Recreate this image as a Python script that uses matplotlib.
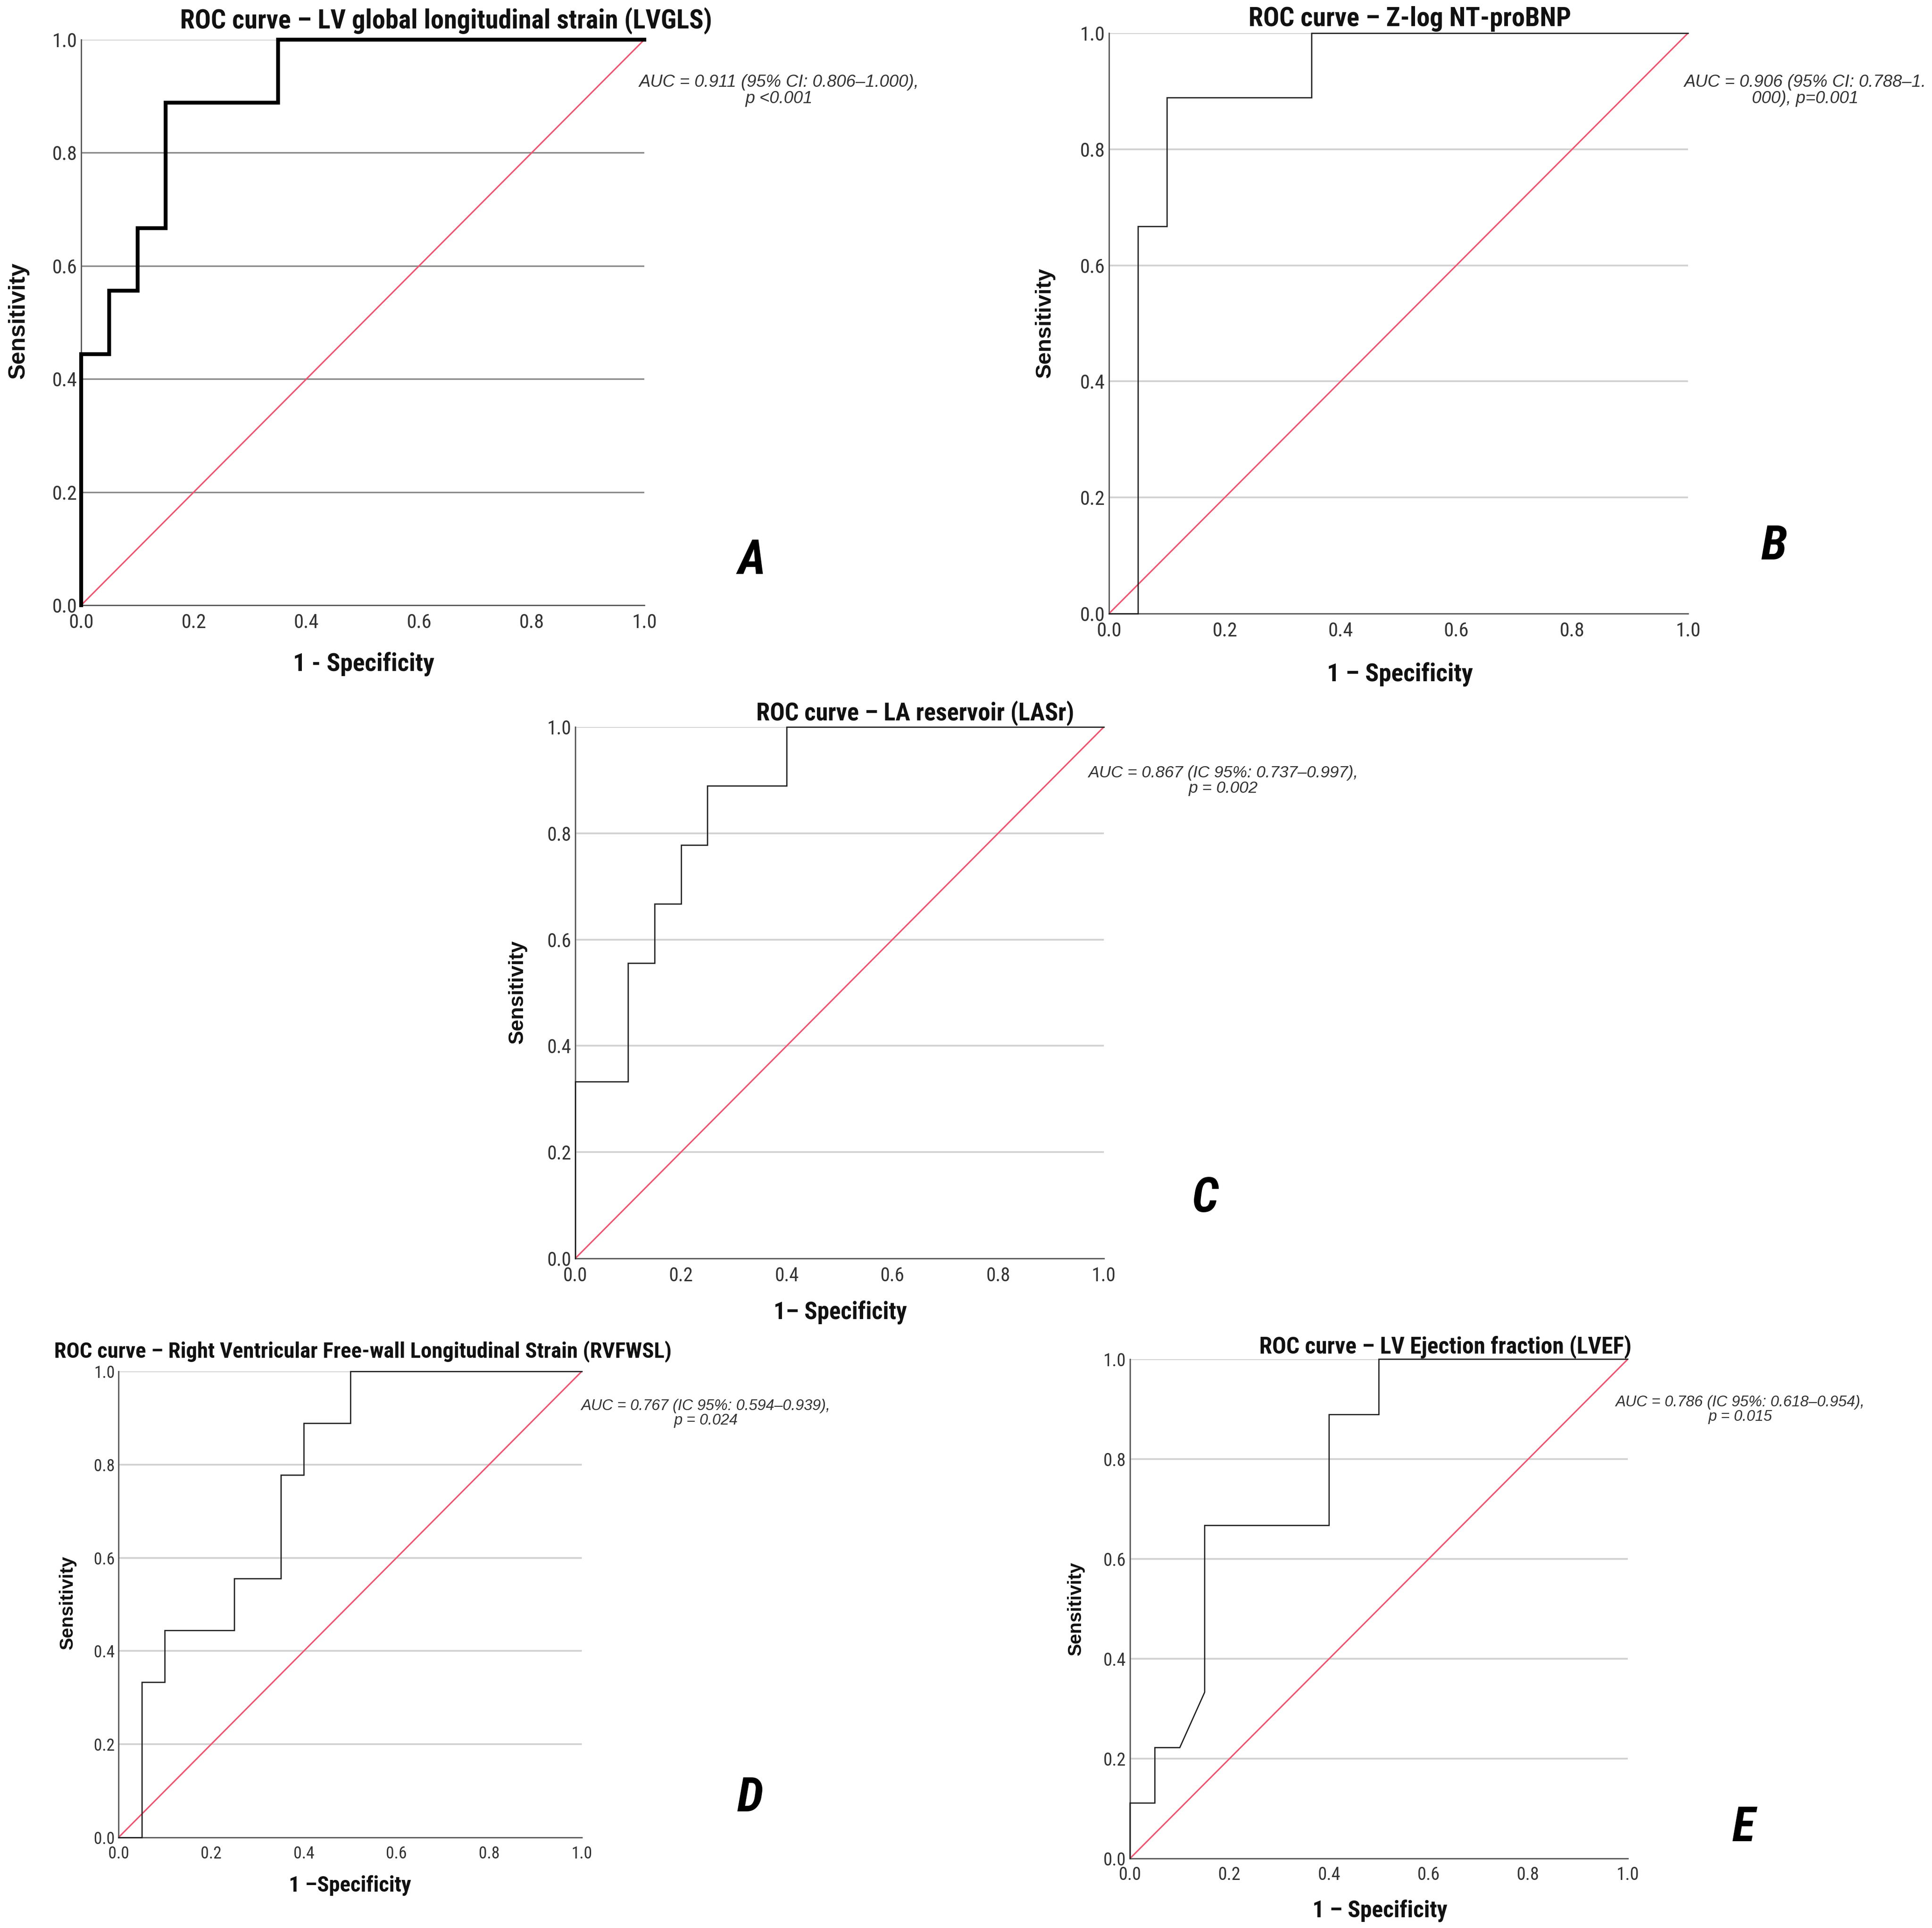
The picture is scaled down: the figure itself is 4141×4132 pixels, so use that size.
"""
ROC curves, five panels (A-E), SPSS look
"""
import matplotlib
matplotlib.use('Agg')
import matplotlib.pyplot as plt
from matplotlib import font_manager

W, H = 4141, 4132

have = {f.name for f in font_manager.fontManager.ttflist}


def pick(*names):
    for n in names:
        if n in have:
            return n
    return 'DejaVu Sans'


NARROW = pick('Liberation Sans Narrow', 'Roboto Condensed', 'Open Sans Condensed', 'Liberation Sans')
ARIAL = pick('Liberation Sans', 'Arimo', 'DejaVu Sans')
LETTER = pick('Roboto Condensed', 'Liberation Sans Narrow', 'Liberation Sans')

# data
ticks = [0.0, 0.2, 0.4, 0.6, 0.8, 1.0]
tick_labels = ['0.0', '0.2', '0.4', '0.6', '0.8', '1.0']
diag = [0.0, 1.0]

fpr_a = [0.0, 0.0, 0.05, 0.05, 0.10, 0.10, 0.15, 0.15, 0.35, 0.35, 1.0]
tpr_a = [0.0, 0.444, 0.444, 0.556, 0.556, 0.667, 0.667, 0.889, 0.889, 1.0, 1.0]

fpr_b = [0.0, 0.05, 0.05, 0.10, 0.10, 0.35, 0.35, 1.0]
tpr_b = [0.0, 0.0, 0.667, 0.667, 0.889, 0.889, 1.0, 1.0]

fpr_c = [0.0, 0.0, 0.10, 0.10, 0.15, 0.15, 0.20, 0.20, 0.25, 0.25, 0.40, 0.40, 1.0]
tpr_c = [0.0, 0.333, 0.333, 0.556, 0.556, 0.667, 0.667, 0.778, 0.778, 0.889, 0.889, 1.0, 1.0]

fpr_d = [0.0, 0.05, 0.05, 0.10, 0.10, 0.25, 0.25, 0.35, 0.35, 0.40, 0.40, 0.50, 0.50, 1.0]
tpr_d = [0.0, 0.0, 0.333, 0.333, 0.444, 0.444, 0.556, 0.556, 0.778, 0.778, 0.889, 0.889, 1.0, 1.0]

fpr_e = [0.0, 0.0, 0.05, 0.05, 0.10, 0.15, 0.15, 0.40, 0.40, 0.50, 0.50, 1.0]
tpr_e = [0.0, 0.111, 0.111, 0.222, 0.222, 0.333, 0.667, 0.667, 0.889, 0.889, 1.0, 1.0]

titles = ['ROC curve \u2013 LV global longitudinal strain (LVGLS)',
          'ROC curve \u2013 Z-log NT-proBNP',
          'ROC curve \u2013 LA reservoir (LASr)',
          'ROC curve \u2013 Right Ventricular Free-wall Longitudinal Strain (RVFWSL)',
          'ROC curve \u2013 LV Ejection fraction (LVEF)']
xlabels = ['1 - Specificity', '1 \u2013 Specificity', '1\u2013 Specificity',
           '1 \u2013Specificity', '1 \u2013 Specificity']
auc_texts = ['AUC = 0.911 (95% CI: 0.806\u20131.000),\np <0.001',
             'AUC = 0.906 (95% CI: 0.788\u20131.\n000), p=0.001',
             'AUC = 0.867 (IC 95%: 0.737\u20130.997),\np = 0.002',
             'AUC = 0.767 (IC 95%: 0.594\u20130.939),\np = 0.024',
             'AUC = 0.786 (IC 95%: 0.618\u20130.954),\np = 0.015']
letters = ['A', 'B', 'C', 'D', 'E']

RED = '#F2506E'
CURVE = '#1e1e1e'
SPINE = '#555555'

fig = plt.figure(figsize=(W / 100, H / 100), dpi=100)
fig.patch.set_facecolor('white')


def fx(x):
    return x / W


def fy(y):
    return 1 - y / H


def panel(box, fpr, tpr, i, lay):
    l, r, t, b = box
    ax = fig.add_axes([fx(l), fy(b), (r - l) / W, (b - t) / H])
    ax.set_xlim(0, 1)
    ax.set_ylim(0, 1)
    for y in ticks[1:]:
        if lay.get('dark') and y < 1:
            ax.axhline(y, color='#8a8a8a', lw=2.4, zorder=1)
        else:
            ax.axhline(y, color='#d0d0d0', lw=2.6, zorder=1)
    ax.plot(diag, diag, color=RED, lw=2.2, zorder=2)
    ax.plot(fpr, tpr, color='black' if lay.get('thick') else CURVE,
            lw=lay.get('lw', 1.9), zorder=3, clip_on=False,
            solid_joinstyle='miter')
    for s in ['top', 'right']:
        ax.spines[s].set_visible(False)
    for s in ['left', 'bottom']:
        ax.spines[s].set_color(SPINE)
        ax.spines[s].set_linewidth(2.0)
    ax.set_xticks(ticks)
    ax.set_yticks(ticks)
    ax.set_xticklabels(tick_labels)
    ax.set_yticklabels(tick_labels)
    ax.tick_params(length=0, labelsize=lay['tfs'], colors='#333333')
    ax.tick_params(axis='x', pad=12)
    ax.tick_params(axis='y', pad=6)
    for lbl in ax.get_xticklabels() + ax.get_yticklabels():
        lbl.set_fontfamily(NARROW)

    fig.text(fx(lay['title'][0]), fy(lay['title'][1]), titles[i], ha='center', va='center',
             fontsize=lay['hfs'], fontfamily=NARROW, fontweight='bold', color='#111111')
    fig.text(fx(lay['xl'][0]), fy(lay['xl'][1]), xlabels[i], ha='center', va='center',
             fontsize=lay['xfs'], fontfamily=NARROW, fontweight='bold', color='#111111')
    fig.text(fx(lay['yl'][0]), fy(lay['yl'][1]), 'Sensitivity', ha='center', va='center',
             rotation=90, fontsize=lay['yfs'], fontfamily=ARIAL, fontweight='bold',
             color='#111111')
    fig.text(fx(lay['auc'][0]), fy(lay['auc'][1]), auc_texts[i], ha='center', va='center',
             fontsize=lay['afs'], fontfamily=ARIAL, style='italic', color='#333333',
             linespacing=1.0, multialignment='center')
    fig.text(fx(lay['let'][0]), fy(lay['let'][1]), letters[i], ha='center', va='center',
             fontsize=74, fontfamily=LETTER, fontweight='bold', style='italic',
             color='black')
    return ax


panel((174, 1381, 85, 1297), fpr_a, tpr_a, 0,
      dict(thick=True, lw=6.0, dark=True, tfs=31, hfs=41, xfs=39, yfs=36, afs=26.5,
           title=(956, 45), xl=(779, 1423), yl=(40, 687), auc=(1670, 194), let=(1611, 1202)))
panel((2377, 3618, 71, 1315), fpr_b, tpr_b, 1,
      dict(tfs=31, hfs=41, xfs=39, yfs=34, afs=26.5,
           title=(3022, 40), xl=(3000, 1445), yl=(2240, 692), auc=(3869, 194), let=(3803, 1170)))
panel((1233, 2366, 1558, 2697), fpr_c, tpr_c, 2,
      dict(tfs=30, hfs=38, xfs=37, yfs=32, afs=25.5,
           title=(1962, 1529), xl=(1801, 2813), yl=(1109, 2126), auc=(2622, 1673), let=(2583, 2568)))
panel((254, 1247, 2939, 3938), fpr_d, tpr_d, 3,
      dict(tfs=26, hfs=34, xfs=34, yfs=29, afs=23.5,
           title=(778, 2897), xl=(750, 4041), yl=(145, 3434), auc=(1513, 3029), let=(1608, 3854)))
panel((2422, 3489, 2913, 3983), fpr_e, tpr_e, 4,
      dict(tfs=28, hfs=36, xfs=36, yfs=29, afs=23.5,
           title=(3098, 2887), xl=(2958, 4095), yl=(2306, 3447), auc=(3730, 3021), let=(3737, 3918)))

fig.savefig('out.png', dpi=100, facecolor='white')
